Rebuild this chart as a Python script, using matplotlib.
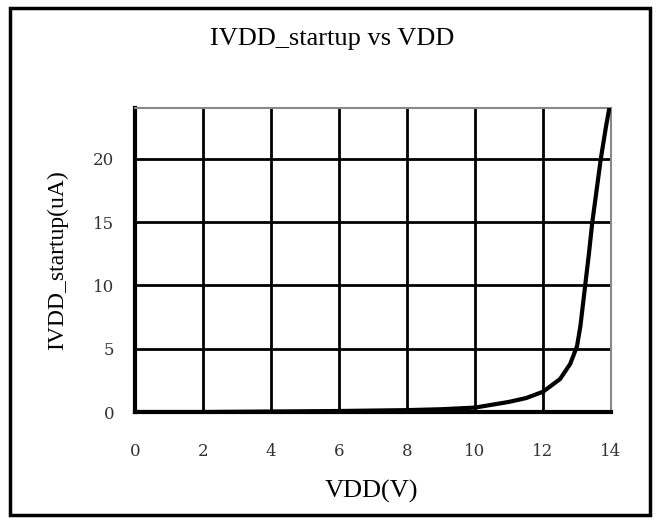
import numpy as np
import matplotlib.pyplot as plt
from matplotlib.patches import Rectangle

# curve
vdd = [0, 2, 3, 4, 6, 8, 9, 10, 11, 11.5, 12, 12.5, 12.8, 13.0, 13.1, 13.24, 13.35, 13.45, 13.6, 13.7, 13.85, 13.95]
i_startup = [0, 0, 0.02, 0.04, 0.08, 0.15, 0.22, 0.35, 0.8, 1.1, 1.6, 2.6, 3.8, 5.2, 6.8, 10, 12.5, 15, 18, 20, 22.5, 24]

x_ticks = [0, 2, 4, 6, 8, 10, 12, 14]
y_ticks = [0, 5, 10, 15, 20]

plt.rcParams['font.family'] = ['Liberation Serif', 'DejaVu Serif']

fig = plt.figure(figsize=(6.61, 5.23), dpi=100)
ax = fig.add_axes([0.2042, 0.2122, 0.7202, 0.5813])

ax.plot(vdd, i_startup, color='k', lw=3, solid_capstyle='round', zorder=3)
ax.set_xlim(0, 14)
ax.set_ylim(0, 24)
ax.set_xticks(x_ticks)
ax.set_yticks(y_ticks)
ax.grid(True, color='k', lw=2)
ax.tick_params(length=0, colors='#333333')
ax.tick_params(axis='x', pad=22)
ax.tick_params(axis='y', pad=15)
for lbl in ax.get_xticklabels() + ax.get_yticklabels():
    lbl.set_family(['DejaVu Serif'])
    lbl.set_fontsize(12)
for s in ['top', 'right']:
    ax.spines[s].set_color('#888888')
    ax.spines[s].set_linewidth(1.5)
for s in ['left', 'bottom']:
    ax.spines[s].set_linewidth(3)

ax.set_xlabel('VDD(V)', fontsize=19)
ax.xaxis.set_label_coords(0.497, -0.222)
ax.set_ylabel('IVDD_startup(uA)', fontsize=17)
ax.yaxis.set_label_coords(-0.141, 0.5)
fig.text(0.502, 0.925, 'IVDD_startup vs VDD', fontsize=19, ha='center', va='center')

fig.patches.append(Rectangle((0.015, 0.016), 0.969, 0.968, transform=fig.transFigure,
                             fill=False, edgecolor='k', lw=2.5))

fig.savefig('out.png', dpi=100)
